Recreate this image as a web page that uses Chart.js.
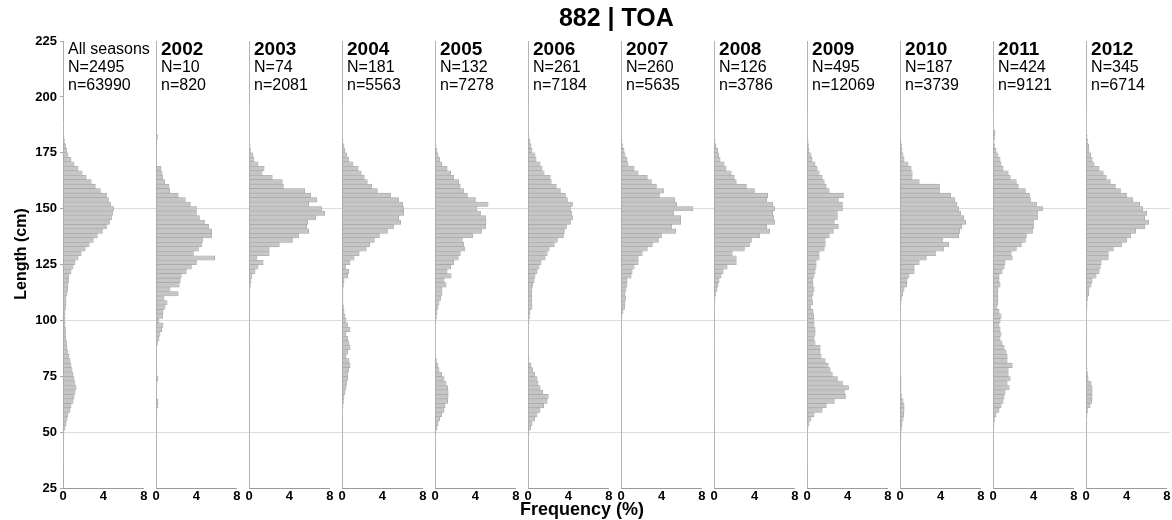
<!DOCTYPE html>
<html><head><meta charset="utf-8">
<script src="https://cdn.jsdelivr.net/npm/chart.js@4.4.1/dist/chart.umd.min.js"></script>
<style>html,body{margin:0;padding:0;background:#fff;overflow:hidden}canvas{display:block}</style>
</head><body>
<canvas id="c" width="1172" height="520"></canvas>
<script>
const chartTitle = '882 | TOA';
const yAxisTitle = 'Length (cm)';
const xAxisTitle = 'Frequency (%)';
const panelLabels = ['All seasons','2002','2003','2004','2005','2006','2007','2008','2009','2010','2011','2012'];
const panelN = [2495,10,74,181,132,261,260,126,495,187,424,345];
const panelSmallN = [63990,820,2081,5563,7278,7184,5635,3786,12069,3739,9121,6714];
const lengthTicks = [25,50,75,100,125,150,175,200,225];
const freqTicks = [0,4,8];
// length class centres (cm), top to bottom
const lengths = [198,196,194,192,190,188,186,184,182,180,
  178,176,174,172,170,168,166,164,162,160,
  158,156,154,152,150,148,146,144,142,140,
  138,136,134,132,130,128,126,124,122,120,
  118,116,114,112,110,108,106,104,102,100,
  98,96,94,92,90,88,86,84,82,80,
  78,76,74,72,70,68,66,64,62,60,
  58,56,54,52,50,48,46,44,42,40,
  38,36];
const freqAll = [0,0,0,0,0,0.02,0.05,0.05,0.1,0.15,
  0.25,0.35,0.5,0.8,1.1,1.5,1.9,2.3,2.8,3.2,
  3.7,4.3,4.5,4.7,5.0,4.9,4.8,4.6,4.3,3.9,
  3.4,3.0,2.6,2.2,1.8,1.5,1.2,1.0,0.8,0.6,
  0.55,0.5,0.45,0.4,0.3,0.3,0.25,0.2,0.2,0.2,
  0.2,0.25,0.25,0.3,0.35,0.4,0.5,0.6,0.7,0.8,
  0.9,1.0,1.1,1.2,1.3,1.2,1.1,1.0,0.8,0.7,
  0.5,0.4,0.3,0.2,0.1,0.1,0.05,0.05,0.05,0.05,
  0.05,0.05];
const freq2002 = [0,0,0,0,0,0,0,0,0.15,0,
  0,0,0,0,0,0.5,0.6,0.65,0.85,1.3,
  1.35,2.2,2.9,3.4,4.0,4.0,4.3,4.8,5.2,5.5,
  5.5,4.6,4.5,4.2,3.7,5.8,4.0,3.5,3.0,2.5,
  2.4,2.3,1.4,2.2,0.8,1.1,0.9,0.7,0.65,0.3,
  0.7,0.55,0.4,0.3,0.15,0,0,0,0,0,
  0.1,0.1,0.2,0.1,0,0,0,0.2,0.2,0.1,
  0,0,0,0,0,0,0,0,0,0,
  0,0];
const freq2003 = [0,0.05,0.05,0.05,0.05,0.05,0.05,0.05,0.05,0.05,
  0.1,0.15,0.4,0.5,0.9,1.5,1.3,2.3,3.3,3.4,
  5.5,6.1,6.7,5.9,7.2,7.5,6.6,5.8,5.7,5.9,
  4.9,4.3,3.0,2.0,2.0,0.8,1.4,0.9,0.6,0.3,
  0.2,0.15,0.1,0,0,0.1,0,0,0,0,
  0,0,0,0,0.05,0,0,0,0,0,
  0,0,0,0,0,0,0,0,0,0,
  0,0,0,0,0,0,0,0,0,0,
  0,0];
const freq2004 = [0,0.05,0.05,0.05,0.05,0.05,0.05,0.05,0.05,0.1,
  0.2,0.3,0.45,0.65,1.1,1.6,1.9,2.2,2.5,2.95,
  3.5,4.8,5.6,6.0,6.1,6.1,5.6,5.8,5.1,4.5,
  3.7,3.2,2.75,2.4,1.7,1.2,0.8,0.35,0.65,0.55,
  0.2,0.15,0.1,0.1,0.1,0.1,0.15,0.2,0.3,0.4,
  0.55,0.8,0.4,0.55,0.7,0.8,0.55,0.4,0.7,0.8,
  0.65,0.55,0.55,0.45,0.4,0.3,0.2,0.15,0.1,0.05,
  0.05,0,0,0,0,0,0,0,0,0,
  0,0];
const freq2005 = [0,0,0,0,0.05,0.05,0.05,0.05,0.05,0.05,
  0.1,0.2,0.3,0.45,0.65,1.2,1.55,1.85,2.35,2.5,
  2.85,3.2,4.0,5.25,4.15,4.5,5.0,5.05,5.0,4.6,
  3.75,2.7,2.85,2.95,2.5,2.3,1.85,1.55,1.2,1.6,
  0.9,1.1,0.7,0.7,0.55,0.4,0.3,0.2,0.15,0.1,
  0.05,0.05,0.05,0.05,0.05,0.05,0.05,0.05,0.15,0.25,
  0.4,0.65,0.9,1.1,1.25,1.3,1.3,1.25,1.0,0.9,
  0.65,0.45,0.3,0.2,0.1,0.05,0.05,0,0,0,
  0,0];
const freq2006 = [0,0.05,0.05,0.05,0.05,0.05,0.05,0.05,0.1,0.2,
  0.3,0.4,0.7,0.8,1.2,1.4,1.6,2.2,2.3,2.8,
  3.2,3.7,3.9,4.4,4.2,4.3,4.4,4.2,3.8,3.6,
  3.5,2.9,2.6,2.1,1.9,1.7,1.3,1.1,0.9,0.7,
  0.6,0.45,0.4,0.35,0.4,0.35,0.4,0.2,0.15,0.1,
  0.05,0.05,0.05,0.05,0.05,0.05,0.05,0.05,0.1,0.3,
  0.45,0.65,0.9,1.0,1.2,1.45,2.0,1.9,1.55,1.2,
  0.9,0.65,0.4,0.25,0.1,0.05,0,0,0,0,
  0,0];
const freq2007 = [0,0,0,0,0.03,0.03,0.03,0.03,0.05,0.1,
  0.15,0.3,0.4,0.6,0.7,1.3,1.7,2.6,3.0,3.5,
  4.2,3.8,5.3,5.5,7.1,5.2,5.9,5.9,5.0,5.4,
  4.0,3.7,3.1,2.6,2.1,1.7,1.7,1.3,1.1,1.0,
  0.6,0.6,0.5,0.4,0.45,0.4,0.35,0.2,0.1,0.05,
  0.05,0.03,0,0,0,0,0,0,0,0,
  0,0,0,0,0,0,0,0,0,0,
  0,0,0,0,0,0,0,0,0,0,
  0,0];
const freq2008 = [0,0,0.03,0.03,0.03,0.03,0.03,0.05,0.05,0.1,
  0.2,0.35,0.45,0.6,1.0,1.2,1.7,2.0,2.2,3.2,
  4.0,5.3,5.2,5.8,6.0,5.8,5.9,6.0,5.2,5.5,
  4.5,3.7,3.5,3.0,1.8,2.2,2.2,1.3,0.9,0.7,
  0.5,0.4,0.3,0.15,0.1,0.05,0.05,0.05,0,0,
  0,0,0.05,0.05,0.05,0.05,0,0,0,0,
  0,0,0,0,0,0,0,0,0,0,
  0.05,0.05,0,0,0,0,0,0,0,0,
  0,0];
const freq2009 = [0,0,0,0.03,0.03,0.03,0.05,0.05,0.05,0.1,
  0.15,0.2,0.4,0.5,0.8,1.0,1.2,1.5,1.7,1.9,
  2.2,3.6,3.1,3.5,3.5,3.0,3.0,2.7,3.1,2.6,
  2.2,1.8,1.8,1.7,1.2,1.2,0.9,0.9,0.8,0.7,
  0.55,0.6,0.7,0.6,0.5,0.55,0.35,0.6,0.65,0.7,
  0.7,0.8,0.8,0.7,0.8,1.3,1.3,1.4,1.8,2.1,
  2.3,2.5,3.0,3.5,4.1,3.7,3.8,2.7,1.9,1.5,
  0.7,0.4,0.2,0.1,0.05,0.03,0.03,0.03,0.03,0.03,
  0.03,0.03];
const freq2010 = [0,0,0,0,0.03,0.03,0.03,0.03,0.05,0.1,
  0.15,0.2,0.3,0.4,0.8,1.1,1.2,1.2,1.9,3.9,
  3.9,5.0,5.4,5.6,5.8,6.0,6.3,6.5,6.1,5.9,
  5.8,4.2,4.8,4.3,3.5,2.6,1.9,1.4,1.4,0.9,
  0.7,0.65,0.4,0.25,0.15,0.1,0.05,0.05,0.05,0.03,
  0.03,0.03,0.03,0.03,0.03,0.03,0.03,0.03,0.05,0.05,
  0.05,0.05,0.1,0.1,0.1,0.1,0.15,0.3,0.4,0.4,
  0.35,0.3,0.2,0.15,0.1,0.1,0.05,0,0,0,
  0,0];
const freq2011 = [0,0,0.03,0.03,0.03,0.03,0.05,0.2,0.15,0.1,
  0.15,0.3,0.5,0.7,0.8,1.0,1.5,1.7,2.3,2.5,
  3.2,3.6,3.7,4.3,4.9,4.4,4.4,4.0,4.0,3.9,
  3.3,3.2,2.8,2.3,1.8,1.9,1.2,1.1,0.9,0.6,
  0.6,0.7,0.5,0.45,0.5,0.45,0.4,0.6,0.8,0.7,
  0.6,0.7,0.8,0.7,0.9,1.1,1.3,1.4,1.4,1.9,
  1.5,1.5,1.7,1.4,1.6,1.2,1.1,1.0,0.8,0.6,
  0.3,0.15,0.1,0.05,0.05,0,0,0,0,0,
  0,0];
const freq2012 = [0,0,0.03,0.03,0.03,0.03,0.03,0.05,0.1,0.15,
  0.25,0.3,0.45,0.6,0.8,1.3,1.7,2.0,2.4,2.9,
  3.4,4.0,4.6,5.3,5.6,6.0,5.8,6.2,5.8,4.9,
  4.4,4.0,3.5,2.7,2.2,2.2,1.5,1.4,1.3,1.0,
  0.6,0.5,0.3,0.25,0.15,0.1,0.1,0.05,0.05,0.05,
  0.05,0.05,0,0,0,0,0,0,0,0,
  0.1,0.15,0.2,0.5,0.6,0.6,0.6,0.55,0.4,0.15,
  0.1,0.05,0,0,0.05,0,0,0,0,0,
  0,0];
const panelFreqs = [freqAll,freq2002,freq2003,freq2004,freq2005,freq2006,freq2007,freq2008,freq2009,freq2010,freq2011,freq2012];

const FONT = '"Liberation Sans", Arial, Helvetica, sans-serif';
const SLOT_MAX = 9.2, LAST_MAX = 8.28;

const datasets = panelFreqs.map((vals, i) => ({
  label: panelLabels[i],
  data: vals.map((v, k) => ({x: v, y: lengths[k]})),
  xAxisID: 'x' + i,
  yAxisID: 'y',
  grouped: false,
  backgroundColor: '#c6c6c6',
  borderColor: '#a3a3a3',
  borderWidth: 0.6,
  borderSkipped: false,
  barPercentage: 1,
  categoryPercentage: 1
}));

const scales = {
  y: {
    type: 'linear', position: 'left', min: 25, max: 225, offset: false,
    afterBuildTicks: s => { s.ticks = lengthTicks.map(v => ({value: v})); },
    afterFit: s => { s.width = 63; },
    ticks: {color: '#000', font: {family: FONT, size: 13, weight: 'bold'}, padding: 3},
    grid: {
      offset: false, drawTicks: true, tickLength: 3, tickColor: '#aaa',
      color: c => (c.tick && [50,100,150].includes(c.tick.value)) ? '#dcdcdc' : 'rgba(0,0,0,0)'
    },
    border: {display: true, color: '#aaa'},
    title: {display: false}
  }
};
panelLabels.forEach((_, i) => {
  const last = i === panelLabels.length - 1;
  scales['x' + i] = {
    type: 'linear', position: 'bottom', stack: 'panels', stackWeight: last ? LAST_MAX / SLOT_MAX : 1,
    min: 0, max: last ? LAST_MAX : SLOT_MAX,
    afterBuildTicks: s => { s.ticks = freqTicks.map(v => ({value: v})); },
    ticks: {color: '#000', font: {family: FONT, size: 13, weight: 'bold'}, padding: 0, maxRotation: 0, autoSkip: false},
    grid: {drawTicks: false, color: c => (c.tick && c.tick.value === 0) ? '#b4b4b4' : 'rgba(0,0,0,0)'},
    border: {display: false}
  };
});

const annotations = {
  id: 'annotations',
  afterDraw(chart) {
    const ctx = chart.ctx, a = chart.chartArea;
    ctx.save();
    ctx.fillStyle = '#000';
    ctx.textBaseline = 'middle';
    ctx.textAlign = 'center';
    ctx.font = 'bold 25px ' + FONT;
    ctx.fillText(chartTitle, (a.left + a.right) / 2, 19);
    const s5 = chart.scales.x5;
    ctx.font = 'bold 18px ' + FONT;
    ctx.fillText(xAxisTitle, s5.getPixelForValue(0) + 54, 510);
    ctx.save();
    ctx.translate(22, 254);
    ctx.rotate(-Math.PI / 2);
    ctx.font = 'bold 16px ' + FONT;
    ctx.fillText(yAxisTitle, 0, 0);
    ctx.restore();
    panelLabels.forEach((lab, i) => {
      const s = chart.scales['x' + i];
      const x0 = s.getPixelForValue(0);
      ctx.strokeStyle = '#9a9a9a'; ctx.lineWidth = 1;
      ctx.beginPath();
      ctx.moveTo(x0, Math.round(a.bottom) + 0.5);
      ctx.lineTo(s.getPixelForValue(8), Math.round(a.bottom) + 0.5);
      ctx.stroke();
      ctx.textAlign = 'left';
      ctx.font = (i === 0 ? '16px ' : 'bold 19px ') + FONT;
      ctx.fillText(lab, x0 + 5, 50);
      ctx.font = '16px ' + FONT;
      ctx.fillText('N=' + panelN[i], x0 + 5, 68);
      ctx.fillText('n=' + panelSmallN[i], x0 + 5, 86);
    });
    ctx.restore();
  }
};

new Chart(document.getElementById('c'), {
  type: 'bar',
  data: {datasets},
  options: {
    indexAxis: 'y',
    responsive: false,
    animation: false,
    devicePixelRatio: 1,
    layout: {padding: {top: 41, bottom: 16, left: 0, right: 0}},
    plugins: {legend: {display: false}, tooltip: {enabled: false}, title: {display: false}},
    scales
  },
  plugins: [annotations]
});
</script>
</body></html>
